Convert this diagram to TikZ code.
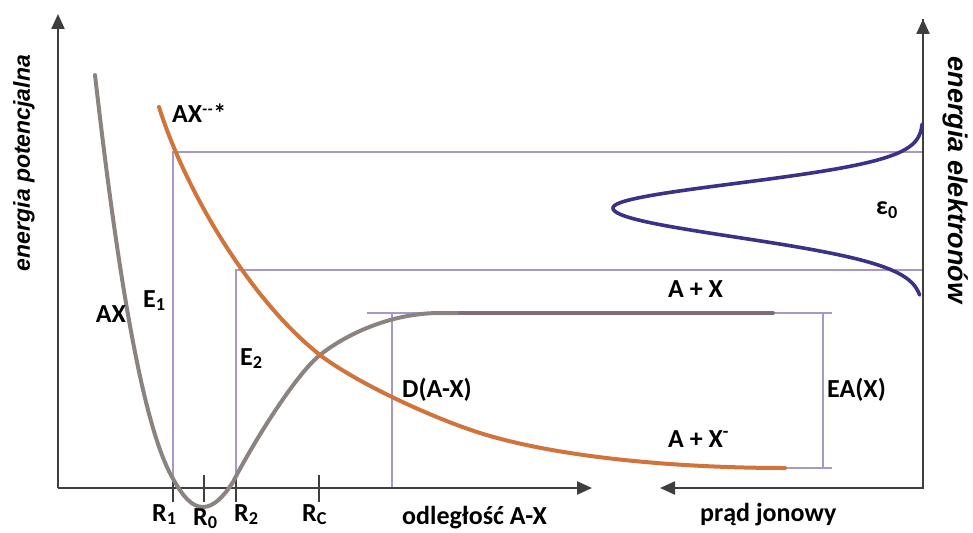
\documentclass[tikz,border=0pt]{standalone}
\usepackage{fontspec}
\setmainfont{Carlito}
\newfontfamily\axfont{Liberation Sans}
\usetikzlibrary{arrows.meta}
\definecolor{axgray}{HTML}{3E3E3E}
\definecolor{curvegray}{HTML}{8B8380}
\definecolor{flatgray}{HTML}{7E6E7A}
\definecolor{orangec}{HTML}{D0743C}
\definecolor{bluec}{HTML}{3A3288}
\definecolor{thinp}{HTML}{A898C8}
\tikzset{
  axisline/.style={draw=axgray, line width=2.2pt},
  axarrow/.style={-{Triangle[length=15pt,width=13pt]}},
  thin line/.style={draw=thinp, line width=1.3pt},
  tickline/.style={draw=axgray, line width=1.6pt},
  lbl/.style={font=\fontsize{26}{30}\selectfont\bfseries, inner sep=0pt},
  axtitle/.style={font=\axfont\fontsize{23}{28}\selectfont\bfseries\itshape, inner sep=0pt},
  pcurve/.style={line width=4pt, line cap=round},
}
\begin{document}
\begin{tikzpicture}[x=1pt,y=-1pt]
\useasboundingbox (0,0) rectangle (973,532);
% coordinates
\coordinate (O) at (58,488);
\coordinate (ytop) at (58,14);
\coordinate (xend) at (592,488);
\coordinate (rb) at (923,488);
\coordinate (rtop) at (923,19);
\coordinate (iend) at (660,488);
% thin reference lines
\draw[thin line] (173,488) -- (173,152) -- (923,152);
\draw[thin line] (236,488) -- (236,270) -- (923,270);
\draw[thin line] (392,488) -- (392,313);
\draw[thin line] (367,313) -- (832,313);
\draw[thin line] (785,468) -- (832,468);
\draw[thin line] (823,313) -- (823,468);
% axes
\draw[axisline, axarrow] (O) -- (ytop);
\draw[axisline, axarrow] (O) -- (xend);
\draw[axisline, axarrow, line join=miter] (rtop) -- (rb) -- (iend);
\draw[axisline, axarrow] (rb) -- (rtop);
% ticks
\draw[tickline] (173,476) -- (173,502);
\draw[tickline] (204,475) -- (204,502);
\draw[tickline] (236,476) -- (236,502);
\draw[tickline] (319,475) -- (319,502);
% AX curve
\draw[pcurve, draw=curvegray] (95,75) .. controls (115,250) and (140,420) .. (172,477)
  .. controls (183,497) and (192,507) .. (203,507)
  .. controls (214,507) and (224,496) .. (233,482)
  .. controls (252,445) and (295,375) .. (320,355)
  .. controls (345,335) and (390,313) .. (440,313) -- (460,313);
\draw[pcurve, draw=flatgray] (460,313) -- (773,313);
% AX- curve
\draw[pcurve, draw=orangec] (159,107) .. controls (185,190) and (250,300) .. (320,355)
  .. controls (355,382) and (430,417) .. (480,433)
  .. controls (560,458) and (680,468) .. (785,468);
% electron energy distribution
\draw[line width=3.6pt, draw=bluec, line cap=round] plot[domain=124:208, samples=70, variable=\t]
  ({923-310*exp(-0.5*((\t-208)/24.5)*((\t-208)/24.5))}, \t)
  -- plot[domain=208:295, samples=70, variable=\t]
  ({923-310*exp(-0.5*((\t-208)/29)*((\t-208)/29))}, \t);
% labels
\node[lbl, anchor=base west] (lAXs) at (172,122) {AX\raisebox{0.6ex}{\fontsize{16}{16}\selectfont -\kern0.8pt-}\kern0.5pt*};
\node[lbl] (lAX) at (111,314) {AX};
\node[lbl, anchor=base west] (lE1) at (143,307) {E\textsubscript{1}};
\node[lbl, anchor=base west] (lE2) at (240,365) {E\textsubscript{2}};
\node[lbl, anchor=base west] (lD) at (402,397) {D(A-X)};
\node[lbl, anchor=base west] (lEA) at (827,397) {EA(X)};
\node[lbl, anchor=base west] (lAX1) at (668,297) {A + X};
\node[lbl, anchor=base west] (lAX2) at (668,447) {A + X\textsuperscript{-}};
\node[lbl] (leps) at (887,210) {ε\textsubscript{0}};
\node[lbl, anchor=base west] (lR1) at (152,521) {R\textsubscript{1}};
\node[lbl, anchor=base west] (lR0) at (193,525) {R\textsubscript{0}};
\node[lbl, anchor=base west] (lR2) at (234,521) {R\textsubscript{2}};
\node[lbl, anchor=base west] (lRc) at (302,521) {R\textsubscript{C}};
\node[lbl, anchor=base west] (lodl) at (402,524) {odległość A-X};
\node[lbl, anchor=base west] (lprad) at (700,521) {prąd jonowy};
\node[axtitle, rotate=90] (tleft) at (24,163) {energia potencjalna};
\node[axtitle, rotate=-90, font=\axfont\fontsize{27}{30}\selectfont\bfseries\itshape] (tright) at (956,180) {energia elektronów};
\end{tikzpicture}
\end{document}
